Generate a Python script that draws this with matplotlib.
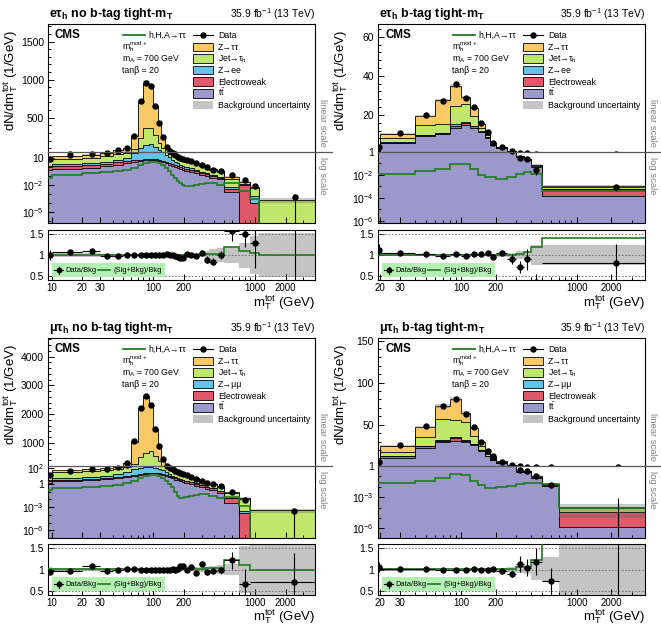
import numpy as np
import matplotlib
matplotlib.use("Agg")
import matplotlib.pyplot as plt
import matplotlib.ticker as ticker
from matplotlib.patches import Rectangle
from matplotlib.lines import Line2D

plt.rcParams["font.family"] = ["Liberation Sans", "DejaVu Sans"]
plt.rcParams["mathtext.fontset"] = "custom"
plt.rcParams["mathtext.rm"] = "Liberation Sans"
plt.rcParams["mathtext.it"] = "Liberation Sans:italic"
plt.rcParams["mathtext.bf"] = "Liberation Sans:bold"

# -- e tau_h, no b-tag ------------------------------------------------------
et_nob_edges = [9.2, 10, 20, 30, 40, 50, 60, 70, 80, 90, 100, 110, 120, 130, 140, 150, 160, 170,
                180, 190, 200, 225, 250, 280, 320, 350, 420, 500, 700, 900, 1100, 3900]
et_nob_tt = [0.5, 0.6, 0.9, 1.3, 2.0, 2.8, 3.8, 4.8, 5.8, 6.3, 6.0, 5.0, 3.8, 2.8, 2.0, 1.4, 1.0, 0.75,
             0.6, 0.5, 0.4, 0.3, 0.22, 0.15, 0.1, 0.07, 0.045, 0.0016, 0, 0, 0]
et_nob_ew = [0.5, 0.9, 1.0, 1.3, 1.6, 1.8, 2.0, 2.2, 2.3, 2.3, 2.2, 2.0, 1.7, 1.4, 1.1, 0.9, 0.7, 0.55,
             0.45, 0.37, 0.3, 0.22, 0.15, 0.1, 0.07, 0.045, 0.025, 0.002, 0.012, 1e-4, 0]
et_nob_zll = [0.4, 0.6, 0.9, 1.4, 3.0, 6.0, 30, 90, 140, 140, 110, 70, 40, 20, 10, 5.0, 2.5, 1.5,
              0.9, 0.6, 0.4, 0.25, 0.15, 0.08, 0.05, 0.03, 0.015, 0.003, 0.001, 5e-4, 0]
et_nob_jet = [3.8, 6.4, 8.5, 13, 22, 30, 55, 140, 220, 210, 160, 90, 55, 32, 20, 13, 8.5, 6.5,
              5.0, 4.0, 3.2, 2.3, 1.6, 0.9, 0.6, 0.35, 0.18, 0.045, 0.008, 0.004, 2.4e-4]
et_nob_ztt = [2.6, 10.5, 14.7, 23, 46, 64, 174, 483, 592, 561, 382, 263, 139, 54, 29, 15.7, 9.3, 5.7,
              4.0, 3.0, 2.2, 1.4, 0.88, 0.47, 0.28, 0.155, 0.085, 0.028, 0.004, 0.0025, 1e-5]
et_nob_sig = [0.06, 0.14, 0.22, 0.3, 0.4, 0.55, 0.9, 1.8, 3.0, 4.0, 4.0, 3.0, 1.8, 0.9, 0.4, 0.15, 0.06,
              0.03, 0.018, 0.012, 0.009, 0.009, 0.011, 0.014, 0.016, 0.016, 0.012, 0.016, 0.0025, 3e-4, 0]
et_nob_ratio = [1.0, 1.08, 1.1, 0.98, 0.98, 0.99, 1.0, 1.0, 1.0, 1.0, 1.0, 1.01, 1.01, 1.02, 1.0, 0.99,
                0.98, 0.96, 0.94, 0.94, 1.02, 1.0, 0.97, 1.06, 0.89, 0.84, 1.0, 1.58, 1.5, 1.3, 2.0]
et_nob_err = [0.12, 0.03, 0.03, 0.02, 0.015, 0.015, 0.01, 0.01, 0.01, 0.01, 0.01, 0.01, 0.01, 0.015,
              0.02, 0.025, 0.03, 0.035, 0.04, 0.045, 0.04, 0.05, 0.05, 0.06, 0.08, 0.08, 0.1, 0.25,
              0.3, 0.6, 2.0]
et_nob_unc = [0.06, 0.04, 0.04, 0.03, 0.03, 0.03, 0.03, 0.03, 0.03, 0.03, 0.03, 0.03, 0.03, 0.03,
              0.03, 0.03, 0.03, 0.03, 0.03, 0.03, 0.04, 0.04, 0.05, 0.05, 0.1, 0.14, 0.16, 0.2, 0.3,
              0.46, 0.52]

# -- e tau_h, b-tag ---------------------------------------------------------
et_bt_edges = [19.2, 20, 40, 60, 80, 100, 120, 140, 160, 180, 200, 250, 300, 350, 400, 500, 3900]
et_bt_tt = [1.6, 5.4, 9.2, 10, 13.1, 15, 13.5, 11, 8.4, 4.6, 2.8, 1.15, 0.38, 0.21, 0.045, 1.4e-4]
et_bt_ew = [0.15, 0.4, 0.5, 0.5, 1.2, 0.9, 0.7, 0.4, 0.3, 0.2, 0.15, 0.08, 0.02, 0.015, 0.012, 4.5e-4]
et_bt_zll = [0.03, 0.1, 0.1, 0.2, 0.8, 0.7, 0.3, 0.1, 0.05, 0.03, 0.02, 0.01, 0.003, 0.002, 0.001, 0]
et_bt_jet = [0.7, 2.4, 5.0, 4.7, 9.2, 9.1, 5.1, 1.6, 1.0, 0.6, 0.35, 0.18, 0.03, 0.025, 0.01, 3.5e-4]
et_bt_ztt = [0.52, 2.0, 4.5, 12.1, 10.7, 3.3, 3.9, 2.4, 0.75, 0.37, 0.18, 0.08, 0.017, 0.008, 0.002, 6e-5]
et_bt_sig = [0.012, 0.012, 0.023, 0.036, 0.086, 0.09, 0.036, 0.0096, 0.0068, 0.0068, 0.004, 0.006,
             0.013, 0.018, 0.013, 4e-4]
et_bt_ratio = [1.13, 1.04, 1.02, 0.98, 1.02, 0.98, 1.02, 1.02, 1.05, 0.96, 1.06, 0.9, 0.71, 0.9, 0.35, 0.82]
et_bt_err = [0.14, 0.04, 0.03, 0.03, 0.03, 0.03, 0.03, 0.04, 0.05, 0.06, 0.07, 0.12, 0.14, 0.25, 0.2, 0.45]
et_bt_unc = [0.05, 0.03, 0.03, 0.03, 0.03, 0.03, 0.03, 0.03, 0.03, 0.03, 0.04, 0.05, 0.1, 0.1, 0.25, 0.25]

# -- mu tau_h, no b-tag -----------------------------------------------------
mt_nob_edges = [9.2, 10, 20, 30, 40, 50, 60, 70, 80, 90, 100, 110, 120, 130, 140, 150, 160, 170,
                180, 190, 200, 225, 250, 280, 320, 350, 420, 500, 700, 900, 3900]
mt_nob_tt = [1.2, 2.0, 2.8, 3.8, 5.0, 7.0, 10, 14, 18, 22, 22, 18, 14, 10, 7.0, 5.0, 3.6, 2.8, 2.2,
             1.7, 1.3, 0.9, 0.6, 0.35, 0.22, 0.15, 0.06, 0.003, 0, 0]
mt_nob_ew = [1.0, 1.5, 2.0, 2.5, 3.0, 3.5, 4.0, 4.5, 4.8, 5.0, 5.0, 4.6, 4.0, 3.3, 2.7, 2.2, 1.8, 1.5,
             1.2, 1.0, 0.8, 0.6, 0.42, 0.28, 0.18, 0.12, 0.06, 0.011, 1.7e-4, 0]
mt_nob_zll = [0.8, 1.5, 2.5, 4.0, 10, 22, 60, 100, 115, 115, 100, 65, 35, 18, 8.0, 4.0, 2.2, 1.3,
              0.8, 0.5, 0.3, 0.18, 0.1, 0.05, 0.03, 0.02, 0.008, 0.002, 1e-4, 0]
mt_nob_jet = [4.5, 26, 40, 48, 60, 100, 209, 390, 516, 568, 433, 275, 147, 90, 55, 36, 26, 19, 14,
              10.5, 7.2, 4.5, 3.0, 1.2, 0.85, 0.6, 0.26, 0.05, 0.011, 3.6e-4]
mt_nob_ztt = [8.1, 23, 31.7, 38.7, 64, 167.5, 752, 1701, 1986, 1610, 940, 537, 245, 89, 47, 28, 16.4,
              10.4, 5.8, 4.3, 2.4, 1.0, 0.78, 0.32, 0.22, 0.16, 0.072, 0.016, 0.0027, 4e-5]
mt_nob_sig = [0.14, 0.28, 0.4, 0.6, 0.8, 1.3, 2.5, 5.0, 10, 15, 15, 10, 5.0, 2.2, 0.9, 0.35, 0.1,
              0.03, 0.016, 0.014, 0.02, 0.03, 0.04, 0.05, 0.05, 0.03, 0.015, 0.019, 0.0014, 0]
mt_nob_ratio = [0.93, 0.96, 1.09, 0.97, 1.0, 1.02, 1.02, 1.0, 1.0, 1.0, 1.0, 1.0, 1.0, 1.0, 1.0, 1.01,
                1.0, 1.02, 1.08, 1.08, 1.0, 1.06, 0.92, 1.14, 0.95, 0.96, 0.98, 1.22, 0.67, 0.7]
mt_nob_err = [0.06, 0.02, 0.02, 0.015, 0.01, 0.01, 0.005, 0.005, 0.005, 0.005, 0.005, 0.005, 0.01,
              0.01, 0.015, 0.02, 0.02, 0.025, 0.03, 0.035, 0.035, 0.045, 0.05, 0.06, 0.07, 0.07, 0.09,
              0.2, 0.35, 0.7]
mt_nob_unc = [0.05, 0.03, 0.03, 0.03, 0.03, 0.03, 0.03, 0.03, 0.03, 0.03, 0.03, 0.03, 0.03, 0.03,
              0.03, 0.03, 0.03, 0.03, 0.03, 0.03, 0.04, 0.04, 0.05, 0.06, 0.07, 0.08, 0.1, 0.14, 0.55, 0.6]

# -- mu tau_h, b-tag --------------------------------------------------------
mt_bt_edges = [19.2, 20, 40, 60, 80, 100, 120, 140, 160, 180, 200, 250, 300, 350, 400, 500, 700, 3900]
mt_bt_tt = [2.6, 11, 22.5, 29, 30.7, 29, 25.5, 19.3, 12.5, 8.2, 4.2, 1.7, 0.28, 0.25, 0.075, 0.012, 1.5e-6]
mt_bt_ew = [0.3, 1.3, 1.9, 2.0, 3.0, 2.0, 1.2, 0.8, 0.6, 0.5, 0.3, 0.12, 0.025, 0.02, 0.008, 0.003, 4e-5]
mt_bt_zll = [0.05, 0.2, 0.3, 0.5, 1.5, 0.8, 0.5, 0.2, 0.1, 0.05, 0.03, 0.01, 0.002, 0.002, 0.001, 0, 0]
mt_bt_jet = [1.2, 5.5, 10.5, 25.5, 21, 21, 10, 5.0, 2.1, 1.8, 1.2, 0.35, 0.04, 0.035, 0.012, 0.003, 6e-5]
mt_bt_ztt = [1.35, 7.0, 11.8, 15, 24.8, 11.2, 8.8, 4.7, 3.7, 1.95, 0.77, 0.22, 0.013, 0.013, 0.004,
             0.001, 1e-5]
mt_bt_sig = [0.025, 0.025, 0.036, 0.065, 0.17, 0.15, 0.038, 0.015, 0.007, 0.007, 0.009, 0.012, 0.019,
             0.022, 0.022, 0.019, 1e-4]
mt_bt_ratio = [1.05, 1.02, 1.02, 1.0, 1.0, 0.98, 1.02, 0.98, 1.0, 1.02, 0.96, 0.9, 1.13, 1.04, 1.18,
               0.72, 0.0]
mt_bt_err = [0.12, 0.03, 0.025, 0.02, 0.02, 0.02, 0.025, 0.03, 0.04, 0.05, 0.06, 0.07, 0.18, 0.2,
             0.32, 0.32, 7.0]
mt_bt_unc = [0.05, 0.03, 0.03, 0.03, 0.03, 0.03, 0.03, 0.03, 0.03, 0.03, 0.04, 0.05, 0.08, 0.1,
             0.25, 0.3, 0.9]

# -- Style -----------------------------------------------------------------
C_TT, C_EW, C_ZLL, C_JET, C_ZTT = "#9B98CC", "#DE5A6A", "#64C3E8", "#C0E66C", "#F9C966"
C_SIG = "#217A21"
C_UNC = "#C4C4C4"
C_RLEG = "#B4F0B4"
STACK_COLORS = [C_TT, C_EW, C_ZLL, C_JET, C_ZTT]

W, H = 661, 627
fig = plt.figure(figsize=(W / 100, H / 100), dpi=100)


def fx(x):
    return x / W


def fy(y):
    return 1 - y / H


def add_ax(l, t, r, b):
    return fig.add_axes([fx(l), fy(b), (r - l) / W, (b - t) / H])


def setup_x(ax, xlo, xticks, show_labels):
    ax.set_xscale("log")
    ax.set_xlim(xlo, 3900)
    ax.xaxis.set_major_locator(ticker.FixedLocator(xticks))
    ax.xaxis.set_minor_locator(ticker.LogLocator(base=10, subs=np.arange(2, 10), numticks=20))
    ax.xaxis.set_minor_formatter(ticker.NullFormatter())
    if show_labels:
        ax.xaxis.set_major_formatter(ticker.FixedFormatter([f"{v:g}" for v in xticks]))
    else:
        ax.xaxis.set_major_formatter(ticker.NullFormatter())


def style_ax(ax):
    ax.tick_params(which="both", direction="in", labelsize=7.5, width=0.7, pad=3)
    ax.tick_params(which="major", length=4.5)
    ax.tick_params(which="minor", length=2.3)
    for s in ax.spines.values():
        s.set_linewidth(0.8)


def draw_legend(l, t, zll_label):
    fs = 6.3
    row = lambda k: fy(t + 14.3 + 11.6 * k)
    fig.add_artist(Line2D([fx(l + 75), fx(l + 97)], [fy(t + 11.3)] * 2, color=C_SIG, lw=1.3))
    fig.text(fx(l + 100), row(0), "h,H,A→ττ", fontsize=fs, va="baseline")
    left = [r"m$_{\mathrm{h}}^{\mathrm{mod+}}$", r"m$_{\mathrm{A}}$ = 700 GeV", "tanβ = 20"]
    for k, s in enumerate(left, start=1):
        fig.text(fx(l + 74), row(k), s, fontsize=fs, va="baseline")
    fig.add_artist(Line2D([fx(l + 145), fx(l + 165)], [fy(t + 11.3)] * 2, color="k", lw=0.8))
    fig.add_artist(Line2D([fx(l + 155)], [fy(t + 11.3)], marker="o", ms=3.6, color="k"))
    fig.text(fx(l + 170), row(0), "Data", fontsize=fs, va="baseline")
    labels = [r"Z→ττ", r"Jet→τ$_{\mathrm{h}}$", zll_label, "Electroweak", r"t$\bar{\mathrm{t}}$",
              "Background uncertainty"]
    colors = [C_ZTT, C_JET, C_ZLL, C_EW, C_TT, C_UNC]
    for k, (lab, col) in enumerate(zip(labels, colors), start=1):
        yc = t + 11.3 + 11.6 * k
        edge = "none" if col == C_UNC else "k"
        fig.add_artist(Rectangle((fx(l + 145), fy(yc + 4.3)), 20 / W, 8.6 / H, facecolor=col,
                                 edgecolor=edge, lw=0.6, transform=fig.transFigure))
        fig.text(fx(l + 170), row(k), lab, fontsize=fs, va="baseline")


def draw_panel(p):
    l, r, t, m, b, rt, rb = p["box"]
    edges = np.array(p["edges"], float)
    comps = [np.array(c, float) for c in p["comps"]]
    total = np.sum(comps, axis=0)
    sig = np.array(p["sig"], float)
    ratio = np.array(p["ratio"], float)
    rerr = np.array(p["err"], float)
    unc = np.array(p["unc"], float)
    centers = 0.5 * (edges[1:] + edges[:-1])
    halfw = 0.5 * (edges[1:] - edges[:-1])
    data = ratio * total
    derr = rerr * total

    ax_lin = add_ax(l, t, r, m)
    ax_log = add_ax(l, m, r, b)
    ax_rat = add_ax(l, rt, r, rb)

    for ax in (ax_lin, ax_log):
        base = np.zeros_like(total)
        for vals, col in zip(comps, STACK_COLORS):
            top = base + vals
            ax.stairs(top, edges, baseline=base, fill=True, color=col, lw=0, zorder=1)
            ax.stairs(top, edges, baseline=None, color="k", lw=0.6, zorder=2)
            base = top
        ax.stairs(total * (1 + unc), edges, baseline=total * (1 - unc), fill=True,
                  color="#666666", alpha=0.35, lw=0, zorder=3)
        ax.stairs(sig, edges, baseline=None, color=C_SIG, lw=1.2, zorder=4)
        ax.errorbar(centers, data, yerr=derr, fmt="o", color="k", ms=3.6, lw=0.8,
                    capsize=0, zorder=5)
        style_ax(ax)

    # linear part
    setup_x(ax_lin, p["xlo"], p["xticks"], False)
    ax_lin.set_ylim(*p["lin"])
    ax_lin.yaxis.set_major_locator(ticker.FixedLocator(p["lin_ticks"]))
    ax_lin.yaxis.set_minor_locator(ticker.AutoMinorLocator(5))
    ax_lin.tick_params(axis="x", which="both", bottom=False, labelbottom=False)
    ax_lin.spines["bottom"].set_visible(False)

    # log part
    ax_log.set_yscale("log")
    setup_x(ax_log, p["xlo"], p["xticks"], False)
    ax_log.set_ylim(*p["log"])
    ax_log.yaxis.set_major_locator(ticker.FixedLocator(p["log_ticks"]))
    ax_log.yaxis.set_major_formatter(ticker.FixedFormatter(p["log_labels"]))
    ax_log.yaxis.set_minor_locator(ticker.LogLocator(base=10, subs=(1.0,), numticks=40))
    ax_log.yaxis.set_minor_formatter(ticker.NullFormatter())
    ax_log.spines["top"].set_visible(False)

    # ratio
    ax_rat.stairs(1 + unc, edges, baseline=1 - unc, fill=True, color=C_UNC, lw=0, zorder=1)
    for yv in (0.5, 1.0, 1.5):
        ax_rat.axhline(yv, color="0.4", lw=0.6, ls=(0, (2, 2)), zorder=2)
    ax_rat.stairs(1 + sig / total, edges, baseline=None, color=C_SIG, lw=1.2, zorder=3)
    ax_rat.errorbar(centers, ratio, yerr=rerr, xerr=halfw, fmt="o", color="k", ms=3.6,
                    lw=0.8, capsize=0, zorder=4)
    style_ax(ax_rat)
    setup_x(ax_rat, p["xlo"], p["xticks"], True)
    ax_rat.tick_params(axis="x", labelsize=7, pad=2.5)
    ax_rat.set_ylim(0.4, 1.6)
    ax_rat.yaxis.set_major_locator(ticker.FixedLocator([0.5, 1.0, 1.5]))
    ax_rat.yaxis.set_major_formatter(ticker.FixedFormatter(["0.5", "1", "1.5"]))

    # boundary between linear and log parts
    fig.add_artist(Line2D([fx(l), fx(r + 17)], [fy(m)] * 2, color="0.35", lw=0.9))
    fig.text(fx(r + 7), fy(m - 5), "linear scale", rotation=270, fontsize=6.8, color="0.5",
             ha="center", va="bottom")
    fig.text(fx(r + 7), fy(m + 5), "log scale", rotation=270, fontsize=6.8, color="0.5",
             ha="center", va="top")

    # texts
    fig.text(fx(l + 1), fy(t - 10), p["title"], fontsize=9, fontweight="bold", va="center")
    fig.text(fx(r), fy(t - 10), r"35.9 fb$^{-1}$ (13 TeV)", fontsize=7.5, ha="right", va="center")
    fig.text(fx(l + 7), fy(t + 11.5), "CMS", fontsize=8.4, fontweight="bold", va="center")
    fig.text(fx(l - 37), fy((t + m) / 2 - 8), r"dN/dm$_{\mathrm{T}}^{\mathrm{tot}}$ (1/GeV)",
             fontsize=9.5, rotation=90, ha="center", va="center")
    fig.text(fx(r), fy(rb + p["xlab_dy"]), r"m$_{\mathrm{T}}^{\mathrm{tot}}$ (GeV)", fontsize=9.5,
             ha="right", va="center")
    draw_legend(l, t, p["zll_label"])

    # ratio legend
    fig.add_artist(Rectangle((fx(l + 4), fy(rt + 47)), 113 / W, 14 / H, facecolor=C_RLEG,
                             edgecolor="none", transform=fig.transFigure))
    yl = rt + 40
    fig.add_artist(Line2D([fx(l + 6), fx(l + 15)], [fy(yl)] * 2, color="k", lw=0.8))
    fig.add_artist(Line2D([fx(l + 10.5)] * 2, [fy(yl - 3.5), fy(yl + 3.5)], color="k", lw=0.8))
    fig.add_artist(Line2D([fx(l + 10.5)], [fy(yl)], marker="o", ms=3.2, color="k"))
    fig.text(fx(l + 17), fy(yl + 2), "Data/Bkg", fontsize=5.4, va="baseline")
    fig.add_artist(Line2D([fx(l + 50), fx(l + 62)], [fy(yl)] * 2, color=C_SIG, lw=1.2))
    fig.text(fx(l + 65), fy(yl + 2), "(Sig+Bkg)/Bkg", fontsize=5.4, va="baseline")


X_LOW = [10, 20, 30, 100, 200, 1000, 2000]
X_HIGH = [20, 30, 100, 200, 1000, 2000]

panels = [
    dict(box=(48, 315, 24, 152, 223, 230, 280), xlab_dy=23,
         title=r"eτ$_{\mathbf{h}}$ no b-tag tight-m$_{\mathbf{T}}$", zll_label="Z→ee",
         edges=et_nob_edges, comps=[et_nob_tt, et_nob_ew, et_nob_zll, et_nob_jet, et_nob_ztt],
         sig=et_nob_sig, ratio=et_nob_ratio, err=et_nob_err, unc=et_nob_unc,
         xlo=9.2, xticks=X_LOW, lin=(50, 1730), lin_ticks=[500, 1000, 1500],
         log=(6.3e-7, 50), log_ticks=[1e-5, 1e-2, 10],
         log_labels=[r"$10^{-5}$", r"$10^{-2}$", "10"]),
    dict(box=(378, 645, 24, 152, 223, 230, 280), xlab_dy=23,
         title=r"eτ$_{\mathbf{h}}$ b-tag tight-m$_{\mathbf{T}}$", zll_label="Z→ee",
         edges=et_bt_edges, comps=[et_bt_tt, et_bt_ew, et_bt_zll, et_bt_jet, et_bt_ztt],
         sig=et_bt_sig, ratio=et_bt_ratio, err=et_bt_err, unc=et_bt_unc,
         xlo=19.2, xticks=X_HIGH, lin=(1, 66.5), lin_ticks=[20, 40, 60],
         log=(6.3e-7, 1), log_ticks=[1e-6, 1e-4, 1e-2, 1],
         log_labels=[r"$10^{-6}$", r"$10^{-4}$", r"$10^{-2}$", "1"]),
    dict(box=(48, 315, 338, 466, 538, 544, 595), xlab_dy=22,
         title=r"μτ$_{\mathbf{h}}$ no b-tag tight-m$_{\mathbf{T}}$", zll_label="Z→μμ",
         edges=mt_nob_edges, comps=[mt_nob_tt, mt_nob_ew, mt_nob_zll, mt_nob_jet, mt_nob_ztt],
         sig=mt_nob_sig, ratio=mt_nob_ratio, err=mt_nob_err, unc=mt_nob_unc,
         xlo=9.2, xticks=X_LOW, lin=(200, 4650), lin_ticks=[1000, 2000, 3000, 4000],
         log=(1e-7, 200), log_ticks=[1e-6, 1e-3, 1, 100],
         log_labels=[r"$10^{-6}$", r"$10^{-3}$", "1", r"$10^{2}$"]),
    dict(box=(378, 645, 338, 466, 538, 544, 595), xlab_dy=22,
         title=r"μτ$_{\mathbf{h}}$ b-tag tight-m$_{\mathbf{T}}$", zll_label="Z→μμ",
         edges=mt_bt_edges, comps=[mt_bt_tt, mt_bt_ew, mt_bt_zll, mt_bt_jet, mt_bt_ztt],
         sig=mt_bt_sig, ratio=mt_bt_ratio, err=mt_bt_err, unc=mt_bt_unc,
         xlo=19.2, xticks=X_HIGH, lin=(1, 153), lin_ticks=[50, 100, 150],
         log=(1.2e-7, 1), log_ticks=[1e-6, 1e-3, 1],
         log_labels=[r"$10^{-6}$", r"$10^{-3}$", "1"]),
]

for p in panels:
    draw_panel(p)

fig.savefig("out.png", dpi=100)
